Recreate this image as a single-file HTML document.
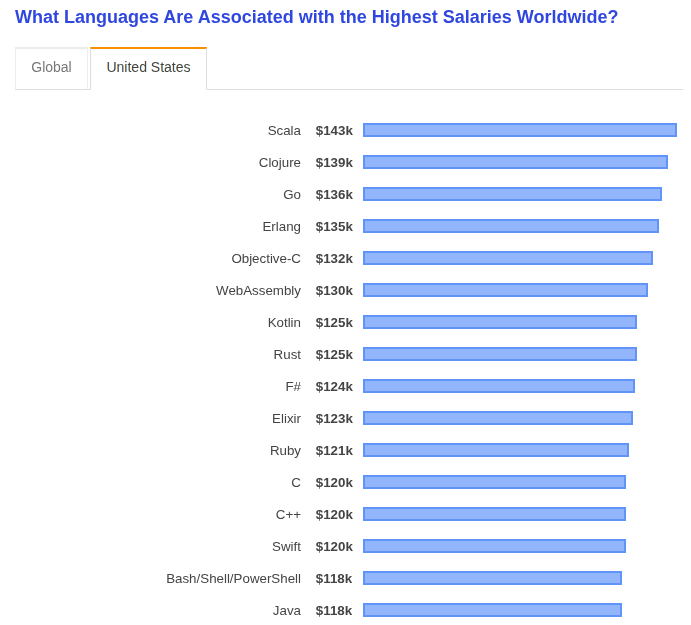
<!DOCTYPE html>
<html>
<head>
<meta charset="utf-8">
<title>Highest Salaries</title>
<style>
html,body{margin:0;padding:0;background:#fff;}
body{width:691px;height:625px;overflow:hidden;font-family:"Liberation Sans",Arial,sans-serif;color:#3b4045;position:relative;}
h2{position:absolute;left:15px;top:7px;margin:0;font-size:18px;line-height:20px;font-weight:bold;color:#2f46df;white-space:nowrap;}
.tabs{position:absolute;left:15px;top:47px;width:668px;height:42px;border-bottom:1px solid #ddd;box-sizing:content-box;}
.tab{position:absolute;top:0;height:43px;box-sizing:border-box;font-size:14px;line-height:37px;text-align:center;background:#fff;}
.tab.g{left:0;width:73px;color:#777;border:1px solid #eee;border-top:2px solid #ececec;border-bottom:1px solid #ddd;}
.tab.us{left:75px;width:117px;color:#444;border:1px solid #ddd;border-top:2px solid #fb8f00;border-bottom:1px solid #fff;}
.tab.us .t{position:relative;display:inline-block;color:rgb(255,68,255);}
.tab.us .t::before,.tab.us .t::after{content:"United States";position:absolute;top:0;white-space:nowrap;mix-blend-mode:multiply;}
.tab.us .t::before{left:0.25px;color:rgb(68,255,255);}
.tab.us .t::after{left:-0.25px;color:rgb(255,255,68);}
.row{position:absolute;left:0;width:691px;height:32px;}
.lbl{position:absolute;right:390px;top:1px;font-size:13.33px;line-height:32px;white-space:nowrap;color:#444;}
.val{position:absolute;left:315.8px;top:1px;font-size:13.33px;line-height:32px;font-weight:bold;color:#444;}
.bar{position:absolute;left:363px;top:9px;height:14px;box-sizing:border-box;border:2px solid #6194f8;background:#93b5fb;}
</style>
</head>
<body>
<h2>What Languages Are Associated with the Highest Salaries Worldwide?</h2>
<div class="tabs">
  <div class="tab g">Global</div>
  <div class="tab us"><span class="t">United States</span></div>
</div>
<div class="row" style="top:114px"><span class="lbl">Scala</span><span class="val">$143k</span><div class="bar" style="width:314px"></div></div>
<div class="row" style="top:146px"><span class="lbl">Clojure</span><span class="val">$139k</span><div class="bar" style="width:305px"></div></div>
<div class="row" style="top:178px"><span class="lbl">Go</span><span class="val">$136k</span><div class="bar" style="width:299px"></div></div>
<div class="row" style="top:210px"><span class="lbl">Erlang</span><span class="val">$135k</span><div class="bar" style="width:296px"></div></div>
<div class="row" style="top:242px"><span class="lbl">Objective-C</span><span class="val">$132k</span><div class="bar" style="width:290px"></div></div>
<div class="row" style="top:274px"><span class="lbl">WebAssembly</span><span class="val">$130k</span><div class="bar" style="width:285px"></div></div>
<div class="row" style="top:306px"><span class="lbl">Kotlin</span><span class="val">$125k</span><div class="bar" style="width:274px"></div></div>
<div class="row" style="top:338px"><span class="lbl">Rust</span><span class="val">$125k</span><div class="bar" style="width:274px"></div></div>
<div class="row" style="top:370px"><span class="lbl">F#</span><span class="val">$124k</span><div class="bar" style="width:272px"></div></div>
<div class="row" style="top:402px"><span class="lbl">Elixir</span><span class="val">$123k</span><div class="bar" style="width:270px"></div></div>
<div class="row" style="top:434px"><span class="lbl">Ruby</span><span class="val">$121k</span><div class="bar" style="width:266px"></div></div>
<div class="row" style="top:466px"><span class="lbl">C</span><span class="val">$120k</span><div class="bar" style="width:263px"></div></div>
<div class="row" style="top:498px"><span class="lbl">C++</span><span class="val">$120k</span><div class="bar" style="width:263px"></div></div>
<div class="row" style="top:530px"><span class="lbl">Swift</span><span class="val">$120k</span><div class="bar" style="width:263px"></div></div>
<div class="row" style="top:562px"><span class="lbl">Bash/Shell/PowerShell</span><span class="val">$118k</span><div class="bar" style="width:259px"></div></div>
<div class="row" style="top:594px"><span class="lbl">Java</span><span class="val">$118k</span><div class="bar" style="width:259px"></div></div>
</body>
</html>
